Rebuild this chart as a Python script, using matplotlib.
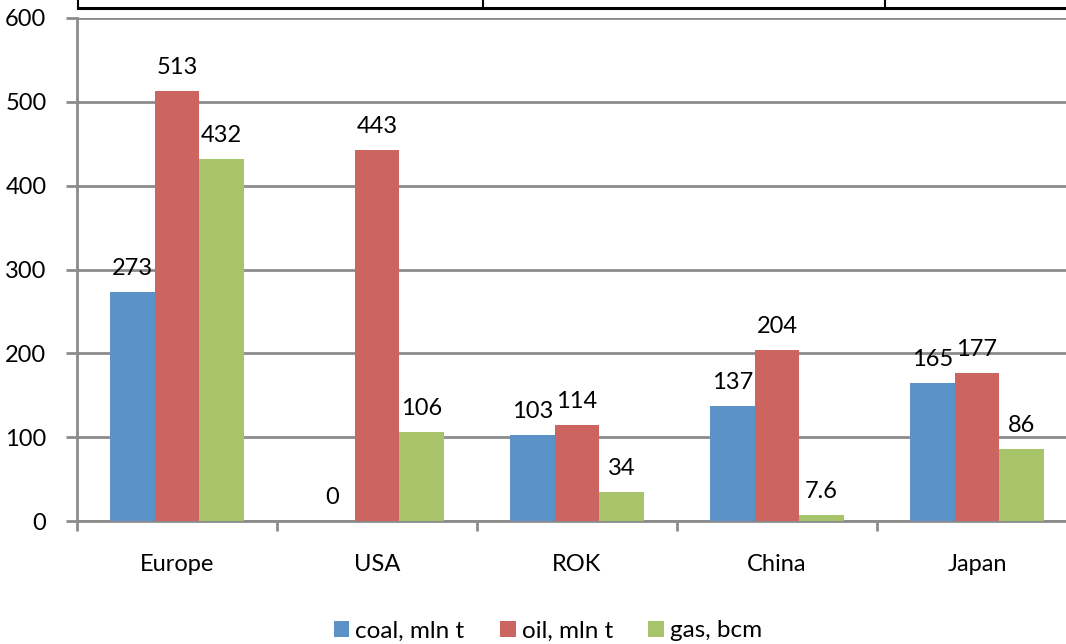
import matplotlib.pyplot as plt
import numpy as np

regions = ["Europe", "USA", "ROK", "China", "Japan"]
coal = [273, 0, 103, 137, 165]
oil = [513, 443, 114, 204, 177]
gas = [432, 106, 34, 7.6, 86]
coal_labels = ["273", "0", "103", "137", "165"]
oil_labels = ["513", "443", "114", "204", "177"]
gas_labels = ["432", "106", "34", "7.6", "86"]
series_names = ["coal, mln t", "oil, mln t", "gas, bcm"]
colors = ["#5B93C8", "#CC655F", "#A8C46A"]
yticks = [0, 100, 200, 300, 400, 500, 600]

plt.rcParams['font.family'] = ['Lato', 'DejaVu Sans']

W, H = 1066, 644
fig = plt.figure(figsize=(W / 100, H / 100), dpi=100)
ax = fig.add_axes([77 / W, (H - 521) / H, 1000 / W, 503 / H])

x = np.arange(len(regions))
bw = 0.2225
grid_color = "#8C8C8C"
fs = 17

for i, (vals, labs) in enumerate(zip([coal, oil, gas], [coal_labels, oil_labels, gas_labels])):
    pos = x + (i - 1) * bw
    bars = ax.bar(pos, vals, width=bw, color=colors[i], label=series_names[i], zorder=3)
    for b, v, t in zip(bars, vals, labs):
        ax.annotate(t, (b.get_x() + b.get_width() / 2, v), xytext=(0, 17),
                    textcoords="offset points", ha="center", va="center", fontsize=fs)

ax.set_xlim(-0.5, len(regions) - 0.5)
ax.set_ylim(0, 600)
ax.set_yticks(yticks)
ax.set_xticks(x)
ax.set_xticklabels(regions)
ax.set_xticks(np.arange(-0.5, len(regions)), minor=True)
ax.yaxis.grid(True, color=grid_color, linewidth=2, zorder=0)
ax.set_axisbelow(True)

for s in ["top", "right"]:
    ax.spines[s].set_visible(False)
ax.spines["left"].set_color(grid_color)
ax.spines["left"].set_linewidth(2)
ax.spines["bottom"].set_color(grid_color)
ax.spines["bottom"].set_linewidth(2)

ax.tick_params(axis="y", length=8, width=2, color=grid_color, pad=14, labelsize=fs)
ax.tick_params(axis="x", which="major", length=0, pad=24, labelsize=fs)
ax.tick_params(axis="x", which="minor", length=7, width=2, color=grid_color)

fig.legend(loc="lower center", bbox_to_anchor=(0.514, -0.03), ncol=3, frameon=False,
           fontsize=17.5, handlelength=0.65, handleheight=0.65, handletextpad=0.25,
           columnspacing=1.45)

# partial table border running along the top edge
line_y = 1 - 8 / H
fig.add_artist(plt.Line2D([78 / W, 1], [line_y, line_y], color="black", linewidth=2.2,
                          transform=fig.transFigure))
for xv in [78, 483, 885]:
    fig.add_artist(plt.Line2D([xv / W, xv / W], [line_y, 1], color="black", linewidth=1.5,
                              transform=fig.transFigure))

fig.savefig("out.png", dpi=100)
